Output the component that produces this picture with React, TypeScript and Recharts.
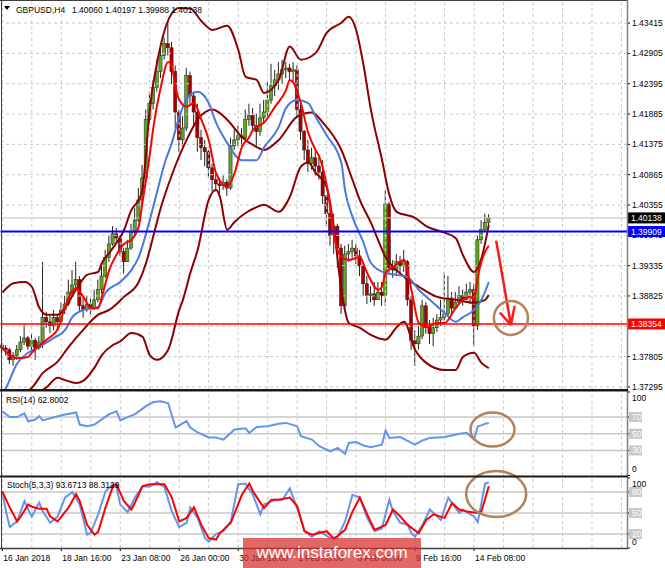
import React from 'react';
import { Bar, ComposedChart, Line, ReferenceDot, ReferenceLine, XAxis, YAxis } from 'recharts';

const FONT = '"Liberation Sans", Arial, sans-serif';
const BULL = '#5aa91c';
const BEAR = '#a80000';
const MAROON = '#8b0000';
const MA_BLUE = '#4a78e0';
const RSI_BLUE = '#6495ed';
const BROWN = '#b5835a';
const GRID = '#c8c8c8';

// GBPUSD H4 candles, one per bar starting 16 Jan 2018 00:00
const firstOpen = 1.38;
const closes = [
  1.3795, 1.3792, 1.3775, 1.3782, 1.3792, 1.3805, 1.3812, 1.3798, 1.3808, 1.3795,
  1.3805, 1.3846, 1.3839, 1.3832, 1.3846, 1.3839, 1.3859, 1.3869, 1.3889, 1.3901,
  1.391, 1.3866, 1.3859, 1.3869, 1.3862, 1.3876, 1.3893, 1.3916, 1.3947, 1.397,
  1.3987, 1.398, 1.3957, 1.394, 1.3963, 1.399, 1.401, 1.4044, 1.4081, 1.4179,
  1.4206, 1.4233, 1.426, 1.4287, 1.4307, 1.43, 1.426, 1.4192, 1.4145, 1.4165,
  1.4253, 1.4219, 1.4192, 1.4149, 1.4132, 1.4125, 1.4098, 1.4078, 1.4071, 1.4068,
  1.4074, 1.4064, 1.4135, 1.4145, 1.4152, 1.4149, 1.4179, 1.4186, 1.4169, 1.4159,
  1.4182, 1.4192, 1.4212, 1.4236, 1.4246, 1.4256, 1.4263, 1.4266, 1.426, 1.4263,
  1.4196, 1.4159, 1.4128, 1.4105, 1.4115, 1.4101, 1.4091, 1.4051, 1.4021, 1.3984,
  1.4, 1.3963, 1.3866, 1.3953, 1.3957, 1.3963, 1.395, 1.3933, 1.3903, 1.3883,
  1.3886, 1.3876, 1.3889, 1.3883, 1.4037, 1.393, 1.3926, 1.394, 1.3933, 1.394,
  1.3876, 1.3808, 1.3802, 1.3815, 1.3866, 1.3832, 1.3819, 1.3829, 1.3842, 1.3846,
  1.3852, 1.3879, 1.3862, 1.3872, 1.3883, 1.3876, 1.3889, 1.3893, 1.3832, 1.3977,
  1.3994, 1.4006, 1.40138,
];
const highs = [
  1.3803, 1.38, 1.3795, 1.3788, 1.38, 1.3815, 1.3834, 1.3815, 1.3819, 1.3812,
  1.3815, 1.394, 1.3856, 1.3849, 1.3859, 1.3852, 1.3872, 1.3883, 1.391, 1.3926,
  1.394, 1.3916, 1.3879, 1.3883, 1.3879, 1.3893, 1.391, 1.3933, 1.396, 1.3984,
  1.4, 1.3997, 1.3984, 1.3963, 1.3977, 1.4004, 1.4031, 1.4064, 1.4103, 1.4196,
  1.4226, 1.4246, 1.428, 1.4303, 1.4317, 1.4344, 1.431, 1.427, 1.4196, 1.4185,
  1.4266, 1.426, 1.4226, 1.4206, 1.4162, 1.4145, 1.4128, 1.4105, 1.4091, 1.4081,
  1.4085, 1.4078, 1.4149, 1.4162, 1.4169, 1.4165, 1.4196, 1.4206, 1.4199, 1.4189,
  1.4206, 1.4212, 1.4243, 1.4273, 1.4263, 1.4276, 1.428, 1.4276, 1.4273, 1.4276,
  1.427, 1.4206, 1.4162, 1.4145, 1.4132, 1.4128, 1.4118, 1.4111, 1.4051, 1.4034,
  1.4021, 1.4004, 1.397, 1.3967, 1.397, 1.3977, 1.397, 1.396, 1.394, 1.3916,
  1.3899, 1.3906, 1.3906, 1.3906, 1.4061, 1.4041, 1.3943, 1.3953, 1.395, 1.396,
  1.3943, 1.3883, 1.3825, 1.3832, 1.3876, 1.3872, 1.3842, 1.3846, 1.3852, 1.3876,
  1.3923, 1.3916, 1.3889, 1.3889, 1.3899, 1.3893, 1.3903, 1.3906, 1.3903, 1.3984,
  1.401, 1.4021, 1.40197,
];
const lows = [
  1.3788, 1.3782, 1.3768, 1.3765, 1.3775, 1.3788, 1.38, 1.3792, 1.3788, 1.3775,
  1.3792, 1.3795, 1.3829, 1.382, 1.3825, 1.3825, 1.3835, 1.3852, 1.3866, 1.3883,
  1.3893, 1.3856, 1.3846, 1.3856, 1.3852, 1.3859, 1.3872, 1.3886, 1.3913, 1.394,
  1.3967, 1.397, 1.395, 1.392, 1.394, 1.396, 1.3984, 1.4007, 1.4037, 1.4081,
  1.4172, 1.4196, 1.4226, 1.4249, 1.428, 1.4287, 1.4239, 1.4165, 1.4125, 1.4135,
  1.416, 1.4206, 1.4169, 1.4125, 1.4111, 1.4101, 1.4081, 1.4058, 1.4058, 1.4054,
  1.4061, 1.4051, 1.4061, 1.4128, 1.4135, 1.4132, 1.4145, 1.4169, 1.4159, 1.4132,
  1.4152, 1.4172, 1.4185, 1.4206, 1.4219, 1.4229, 1.4239, 1.4249, 1.4246, 1.4243,
  1.4185, 1.4145, 1.4111, 1.4091, 1.4095, 1.4085, 1.4078, 1.4037, 1.4, 1.3967,
  1.3953, 1.393, 1.3852, 1.3859, 1.394, 1.3947, 1.3936, 1.3916, 1.3883, 1.3869,
  1.3872, 1.3866, 1.3876, 1.3866, 1.3866, 1.392, 1.3913, 1.3916, 1.392, 1.3923,
  1.3866, 1.3792, 1.3765, 1.3792, 1.381, 1.3819, 1.3802, 1.3798, 1.3822, 1.3832,
  1.3839, 1.3849, 1.3852, 1.3859, 1.3869, 1.3866, 1.3876, 1.3869, 1.3798, 1.3825,
  1.397, 1.399, 1.39988,
];

// indicator lines: [bar, value]
const fastMa = [
  [0, 1.3795], [2, 1.3783], [4, 1.3778], [7, 1.378], [8, 1.3787], [12, 1.3809], [15, 1.3826],
  [17, 1.3864], [20, 1.3896], [22, 1.3881], [24, 1.3862], [26, 1.3862], [27, 1.3881], [29, 1.3926],
  [31, 1.3952], [33, 1.397], [35, 1.3977], [37, 1.3999], [38, 1.4039], [40, 1.412], [41, 1.4167],
  [43, 1.4234], [45, 1.4276], [46, 1.4268], [47, 1.4234], [48, 1.4212], [50, 1.4201], [52, 1.4207],
  [54, 1.4179], [56, 1.4145], [58, 1.4089], [61, 1.4066], [63, 1.4089], [65, 1.4133], [67, 1.415],
  [68, 1.4162], [71, 1.4174], [74, 1.4201], [77, 1.4229], [78, 1.4246], [79, 1.4241], [81, 1.4207],
  [83, 1.4157], [85, 1.4128], [86, 1.4117], [88, 1.4069], [89, 1.4032], [90, 1.3985], [92, 1.3948],
  [94, 1.3943], [97, 1.3948], [99, 1.3921], [102, 1.3893], [103, 1.3898], [104, 1.3921],
  [106, 1.3931], [109, 1.3943], [111, 1.3893], [113, 1.3837], [115, 1.383], [118, 1.3837],
  [120, 1.3837], [123, 1.3862], [125, 1.3876], [127, 1.3881], [128, 1.3876], [129, 1.3914],
  [130, 1.394], [131, 1.3957], [132, 1.3967],
];
const slowMa = [
  [0, 1.3718], [1, 1.3728], [4, 1.3769], [7, 1.3787], [10, 1.3797], [14, 1.3812], [17, 1.3825],
  [19, 1.3847], [22, 1.3859], [26, 1.3864], [28, 1.3888], [32, 1.3906], [35, 1.3926], [37, 1.3948],
  [40, 1.401], [42, 1.4058], [44, 1.4105], [46, 1.414], [48, 1.4184], [51, 1.4221], [53, 1.4226],
  [56, 1.4207], [58, 1.4174], [61, 1.414], [65, 1.4111], [69, 1.4111], [71, 1.4132], [75, 1.4167],
  [77, 1.4199], [80, 1.4212], [83, 1.4207], [85, 1.4184], [88, 1.4153], [92, 1.4106], [93, 1.406],
  [95, 1.4016], [98, 1.3972], [100, 1.3938], [104, 1.3921], [107, 1.3918], [110, 1.3914],
  [113, 1.3893], [116, 1.3876], [120, 1.3854], [123, 1.3839], [125, 1.3847], [128, 1.3859],
  [130, 1.3876], [132, 1.3906],
];
const bandUpper = [
  [0, 1.3888], [3, 1.3904], [6, 1.3906], [8, 1.3898], [10, 1.3863], [12, 1.3851], [15, 1.3851],
  [17, 1.3863], [20, 1.3893], [23, 1.3918], [26, 1.3923], [27, 1.3938], [29, 1.3955], [31, 1.3972],
  [33, 1.3993], [35, 1.4027], [37, 1.4044], [38, 1.4061], [40, 1.4196], [43, 1.4305], [46, 1.4358],
  [48, 1.4367], [51, 1.4366], [54, 1.4345], [57, 1.433], [61, 1.4337], [64, 1.4297], [66, 1.4251],
  [69, 1.4246], [71, 1.4224], [75, 1.4246], [78, 1.4302], [81, 1.428], [85, 1.4291], [88, 1.4325],
  [92, 1.4342], [94, 1.4352], [96, 1.433], [98, 1.4271], [100, 1.4196], [103, 1.4112], [105, 1.4053],
  [107, 1.4024], [112, 1.4014], [115, 1.4], [120, 1.3989], [123, 1.398], [125, 1.3951],
  [128, 1.3923], [130, 1.3946], [132, 1.4002],
];
const bandMiddle = [
  [0, 1.3705], [8, 1.3728], [11, 1.3753], [15, 1.3772], [18, 1.3797], [22, 1.3826], [26, 1.3851],
  [29, 1.3859], [33, 1.3881], [37, 1.3906], [39, 1.3938], [40, 1.396], [43, 1.4031], [46, 1.4086],
  [50, 1.4145], [53, 1.4179], [57, 1.4196], [61, 1.4179], [65, 1.415], [69, 1.4133], [71, 1.4128],
  [75, 1.4145], [80, 1.4184], [84, 1.4191], [87, 1.4174], [92, 1.4128], [95, 1.4078], [97, 1.4044],
  [100, 1.4006], [104, 1.3948], [109, 1.3915], [113, 1.3898], [118, 1.3881], [123, 1.3876],
  [128, 1.3871], [131, 1.3876], [132, 1.3884],
];
const bandLower = [
  [0, 1.3699], [6, 1.3708], [12, 1.3729], [15, 1.3745], [17, 1.3741], [20, 1.3736], [22, 1.374],
  [25, 1.3762], [27, 1.3783], [30, 1.38], [32, 1.3806], [35, 1.382], [38, 1.3814], [40, 1.3783],
  [42, 1.3775], [45, 1.3792], [48, 1.3859], [49, 1.3876], [51, 1.3921], [53, 1.396], [56, 1.4044],
  [58, 1.4061], [59, 1.405], [61, 1.3994], [63, 1.4007], [66, 1.4022], [69, 1.4032], [71, 1.4036],
  [75, 1.4024], [78, 1.4049], [81, 1.41], [83, 1.4107], [85, 1.409], [88, 1.4066], [90, 1.3994],
  [92, 1.3893], [94, 1.3837], [97, 1.3829], [100, 1.3817], [104, 1.3809], [107, 1.383],
  [109, 1.3839], [112, 1.3792], [115, 1.377], [120, 1.3758], [123, 1.3758], [125, 1.378],
  [128, 1.3787], [130, 1.377], [132, 1.3761],
];
const rsi = [
  [0, 77], [2, 70], [4, 70], [6, 74.5], [7, 65], [9, 67], [10, 71], [11, 66], [13, 68.5], [17, 73],
  [20, 75.5], [21, 61], [23, 59], [25, 61], [29, 73.5], [31, 77], [32, 66], [34, 70], [36, 73.5],
  [39, 83], [41, 88], [43, 89], [45, 86.5], [47, 57.5], [48, 60], [50, 65], [51, 57.5], [53, 51.5],
  [56, 45.5], [58, 45.5], [60, 43], [63, 55], [66, 56.5], [67, 51], [69, 58], [72, 59], [75, 62],
  [77, 63], [80, 59], [81, 47], [84, 43], [86, 35], [89, 29], [91, 33], [93, 26], [94, 39], [96, 40],
  [98, 36], [100, 34], [103, 37], [104, 54], [105, 45], [108, 46], [111, 39], [112, 37], [114, 42],
  [116, 45], [120, 46], [122, 48], [124, 50], [126, 51], [127, 47], [128, 43], [129, 59], [130, 60],
  [131, 62], [132, 62.8],
];
const stochK = [
  [0, 81], [1, 52], [2, 30], [4, 38], [6, 67], [7, 55], [8, 45], [10, 65], [11, 52], [13, 36],
  [15, 45], [17, 72], [19, 80], [21, 62], [23, 19], [24, 22], [26, 48], [28, 81], [30, 91], [31, 87],
  [32, 62], [34, 51], [36, 72], [38, 88], [40, 88], [42, 94], [44, 87], [46, 52], [48, 30], [50, 36],
  [51, 58], [53, 43], [55, 14], [56, 9], [58, 20], [60, 24], [62, 38], [64, 91], [66, 92], [68, 76],
  [70, 48], [71, 62], [74, 69], [76, 69], [78, 85], [80, 57], [82, 24], [84, 16], [86, 24], [89, 14],
  [91, 16], [93, 38], [95, 76], [97, 72], [99, 43], [101, 24], [103, 28], [105, 69], [106, 52],
  [108, 36], [110, 33], [111, 21], [112, 16], [114, 33], [116, 55], [119, 40], [121, 72], [124, 50],
  [125, 55], [127, 48], [128, 45], [129, 37], [131, 92], [132, 93.67],
];
const stochD = [
  [0, 81], [2, 58], [4, 38], [5, 45], [7, 62], [8, 59], [10, 56], [12, 56], [13, 45], [15, 38],
  [18, 58], [20, 77], [21, 67], [23, 33], [25, 19], [26, 23], [28, 58], [30, 88], [31, 91], [33, 67],
  [35, 55], [36, 65], [38, 88], [40, 91], [44, 91], [46, 72], [48, 38], [50, 43], [52, 58], [54, 33],
  [56, 14], [58, 12], [59, 21], [62, 36], [65, 76], [67, 92], [68, 81], [71, 57], [73, 69], [75, 69],
  [78, 72], [80, 60], [82, 24], [84, 19], [88, 24], [90, 13], [93, 26], [95, 52], [97, 72], [99, 48],
  [101, 26], [104, 33], [106, 55], [108, 45], [110, 33], [113, 21], [115, 40], [117, 48], [120, 43],
  [122, 64], [124, 55], [126, 52], [129, 50], [130, 52], [132, 88.31],
];

const priceTicks = [
  1.43415, 1.42905, 1.42395, 1.41885, 1.41375, 1.40865, 1.40355, 1.39845, 1.39335, 1.38825,
  1.38315, 1.37805, 1.37295,
];
const lastPrice = 1.40138;
const resistance = 1.39909;
const support = 1.38354;
const timeLabels = [
  '16 Jan 2018', '18 Jan 16:00', '23 Jan 08:00', '26 Jan 00:00', '30 Jan 16:00',
  '1 Feb 08:00', '6 Feb 00:00', '9 Feb 16:00', '14 Feb 08:00',
];
const timeLabelBars = [0, 16, 32, 48, 64, 80, 96, 112, 128];
const gridBars = [0, 8, 16, 24, 32, 40, 48, 56, 64, 72, 80, 88, 96, 104, 112, 120, 128, 136, 144, 152, 160, 168];

const SLOTS = 170;
const rows: Record<string, any>[] = Array.from({ length: SLOTS }, (_, i) => ({ i }));
closes.forEach((c, i) => {
  rows[i].open = i === 0 ? firstOpen : closes[i - 1];
  rows[i].close = c;
  rows[i].range = [lows[i], highs[i]];
});
const put = (key: string, pts: number[][]) => pts.forEach(([i, v]) => { rows[i][key] = v; });
put('fast', fastMa);
put('slow', slowMa);
put('up', bandUpper);
put('mid', bandMiddle);
put('low', bandLower);
put('rsi', rsi);
put('k', stochK);
put('d', stochD);

const TAGS: Record<string, string> = {
  [lastPrice.toFixed(5)]: '#000000',
  [resistance.toFixed(5)]: '#0000ff',
  [support.toFixed(5)]: '#ff0000',
};

const Candle = (props: any) => {
  const { x, y, width, height, payload } = props;
  if (!payload || !payload.range || !Number.isFinite(y) || !Number.isFinite(height)) return <g />;
  const [lo, hi] = payload.range;
  const span = hi - lo || 1e-9;
  const toY = (v: number) => y + ((hi - v) / span) * height;
  const cx = x + width / 2;
  const yo = toY(payload.open);
  const yc = toY(payload.close);
  const top = Math.min(yo, yc);
  const h = Math.max(Math.abs(yc - yo), 1);
  const up = payload.close >= payload.open;
  return (
    <g>
      <line x1={cx} x2={cx} y1={y} y2={y + height} stroke="#222" strokeWidth={1} />
      <rect x={cx - 1.6} y={top} width={3.2} height={h} fill={up ? BULL : BEAR} stroke="#222" strokeWidth={0.5} />
    </g>
  );
};

const Empty = () => <g />;

const PriceTick = (props: any) => {
  const { x, y, payload } = props;
  const label = Number(payload.value).toFixed(5);
  const bg = TAGS[label];
  if (bg) {
    return (
      <g>
        <rect x={x - 4} y={y - 5.5} width={38} height={11} fill={bg} />
        <text x={x - 1} y={y + 3} fill="#fff" fontSize={8.5} fontFamily={FONT}>{label}</text>
      </g>
    );
  }
  return <text x={x} y={y + 3} fill="#000" fontSize={8.5} fontFamily={FONT}>{label}</text>;
};

const levelTick = (top: number, bottom: number) => (props: any) => {
  const { x, y, payload } = props;
  const v = payload.value;
  if (v === top) return <text x={x} y={y + 9} fill="#000" fontSize={8.5} fontFamily={FONT}>{v}</text>;
  if (v === bottom) return <text x={x} y={y - 3.5} fill="#000" fontSize={8.5} fontFamily={FONT}>{v}</text>;
  return (
    <g>
      <rect x={x - 3} y={y - 5} width={13} height={10} fill="#c8c8c8" />
      <text x={x} y={y + 3} fill="#fff" fontSize={8.5} fontFamily={FONT}>{v}</text>
    </g>
  );
};

const TimeTick = (props: any) => {
  const { x, y, payload } = props;
  const k = timeLabelBars.indexOf(payload.value);
  if (k < 0) return <g />;
  return (
    <g>
      <line x1={x} x2={x} y1={y} y2={y + 3} stroke="#000" />
      <text x={x + 1} y={y + 12.5} fill="#000" fontSize={8.5} fontFamily={FONT}>{timeLabels[k]}</text>
    </g>
  );
};

const ellipse = (rx: number, ry: number) => (p: any) => (
  <ellipse cx={p.cx} cy={p.cy} rx={rx} ry={ry} fill="none" stroke={BROWN} strokeWidth={2.5} />
);

const vGrid = () =>
  gridBars.map((b) => <ReferenceLine key={`v${b}`} x={b} stroke={GRID} strokeDasharray="3 3" />);

const lineProps = { dot: false, activeDot: false, isAnimationActive: false, connectNulls: true } as const;

export default function App() {
  return (
    <div style={{ position: 'absolute', left: 0, top: 0, width: 665, height: 568, background: '#fff', overflow: 'hidden' }}>
      <div style={{ position: 'absolute', left: 0, top: 0 }}>
        <ComposedChart width={665} height={396} data={rows} margin={{ top: 2, right: 0, bottom: 7, left: 0.5 }}>
          <XAxis dataKey="i" type="category" scale="band" hide />
          <YAxis
            orientation="right"
            width={38}
            type="number"
            domain={[1.3726, 1.4377]}
            allowDataOverflow
            ticks={[...priceTicks, lastPrice, resistance, support]}
            interval={0}
            tickSize={3}
            tickMargin={2}
            tickLine={{ stroke: '#000' }}
            axisLine={false}
            tick={PriceTick}
          />
          {vGrid()}
          {priceTicks.map((t) => (
            <ReferenceLine key={`h${t}`} y={t} stroke={GRID} strokeDasharray="3 3" />
          ))}
          <ReferenceLine y={lastPrice} stroke="#c0c0c0" />
          <Bar dataKey="range" barSize={3} shape={Candle} isAnimationActive={false} />
          <Line dataKey="up" type="monotone" stroke={MAROON} strokeWidth={2} {...lineProps} />
          <Line dataKey="mid" type="monotone" stroke={MAROON} strokeWidth={2} {...lineProps} />
          <Line dataKey="low" type="monotone" stroke={MAROON} strokeWidth={2} {...lineProps} />
          <Line dataKey="slow" type="monotone" stroke={MA_BLUE} strokeWidth={2} {...lineProps} />
          <Line dataKey="fast" type="monotone" stroke="#ff0000" strokeWidth={2} {...lineProps} />
          <ReferenceLine y={resistance} stroke="#0000ff" strokeWidth={2} />
          <ReferenceLine y={support} stroke="#ff0000" strokeWidth={1.5} />
          <ReferenceLine segment={[{ x: 134, y: 1.39756 }, { x: 138, y: 1.38337 }]} stroke="#ff1a1a" strokeWidth={2.5} />
          <ReferenceLine segment={[{ x: 135, y: 1.38544 }, { x: 138, y: 1.38337 }]} stroke="#ff1a1a" strokeWidth={2.5} />
          <ReferenceLine segment={[{ x: 139, y: 1.38657 }, { x: 138, y: 1.38337 }]} stroke="#ff1a1a" strokeWidth={2.5} />
          <ReferenceDot x={138} y={1.38455} r={17} fill="none" stroke={BROWN} strokeWidth={2.5} />
        </ComposedChart>
      </div>

      <div style={{ position: 'absolute', left: 0, top: 391 }}>
        <ComposedChart width={665} height={86} data={rows} margin={{ top: 1, right: 0, bottom: 1.5, left: 0.5 }}>
          <XAxis dataKey="i" type="category" scale="band" hide />
          <YAxis
            orientation="right"
            width={38}
            type="number"
            domain={[0, 100]}
            ticks={[100, 70, 50, 30, 0]}
            interval={0}
            tickSize={3}
            tickMargin={2}
            tickLine={{ stroke: '#000' }}
            axisLine={false}
            tick={levelTick(100, 0)}
          />
          {vGrid()}
          {[70, 50, 30].map((v) => (
            <ReferenceLine key={v} y={v} stroke={GRID} strokeWidth={1.5} />
          ))}
          <Bar dataKey="none" barSize={3} shape={Empty} isAnimationActive={false} />
          <Line dataKey="rsi" type="linear" stroke={RSI_BLUE} strokeWidth={2} {...lineProps} />
          <ReferenceDot x={133} y={55} r={1} shape={ellipse(22, 17)} />
        </ComposedChart>
      </div>

      <div style={{ position: 'absolute', left: 0, top: 464 }}>
        <ComposedChart width={665} height={104} data={rows} margin={{ top: 14, right: 0, bottom: 0, left: 0.5 }}>
          <XAxis
            dataKey="i"
            type="category"
            scale="band"
            height={20}
            ticks={timeLabelBars}
            interval={0}
            tickSize={0}
            tickMargin={0}
            tickLine={false}
            axisLine={false}
            tick={TimeTick}
          />
          <YAxis
            orientation="right"
            width={38}
            type="number"
            domain={[0, 100]}
            ticks={[100, 80, 50, 20, 0]}
            interval={0}
            tickSize={3}
            tickMargin={2}
            tickLine={{ stroke: '#000' }}
            axisLine={false}
            tick={levelTick(100, 0)}
          />
          {vGrid()}
          {[80, 50, 20].map((v) => (
            <ReferenceLine key={v} y={v} stroke={GRID} strokeWidth={1.5} />
          ))}
          <Bar dataKey="none" barSize={3} shape={Empty} isAnimationActive={false} />
          <Line dataKey="k" type="linear" stroke={RSI_BLUE} strokeWidth={2} {...lineProps} />
          <Line dataKey="d" type="linear" stroke="#ff0000" strokeWidth={2} {...lineProps} />
          <ReferenceDot x={134} y={77} r={1} shape={ellipse(30, 23)} />
        </ComposedChart>
      </div>

      <svg width={665} height={568} style={{ position: 'absolute', left: 0, top: 0, pointerEvents: 'none' }}>
        <line x1={0} y1={0.5} x2={628} y2={0.5} stroke="#404040" />
        <line x1={1.5} y1={0} x2={1.5} y2={549} stroke="#404040" />
        <line x1={627.5} y1={0} x2={627.5} y2={549} stroke="#808080" strokeWidth={1.5} />
        <rect x={0} y={389} width={628} height={2.5} fill="#1a1a1a" />
        <rect x={0} y={475.5} width={628} height={2} fill="#1a1a1a" />
        <line x1={0} y1={548.5} x2={628} y2={548.5} stroke="#404040" strokeWidth={1.5} />
        <polygon points="4,6 10,6 7,10" fill="#000" />
        <text x={16} y={13} fontSize={8.5} fontFamily={FONT} fill="#000">GBPUSD,H4</text>
        <text x={72} y={13} fontSize={8.5} fontFamily={FONT} fill="#000">1.40060 1.40197 1.39988 1.40138</text>
        <text x={6} y={403} fontSize={8.5} fontFamily={FONT} fill="#000">RSI(14) 62.8002</text>
        <text x={7} y={488} fontSize={8.5} fontFamily={FONT} fill="#000">Stoch(5,3,3) 93.6713 88.3129</text>
      </svg>

      <div
        style={{
          position: 'absolute',
          left: 243,
          top: 538,
          width: 178,
          height: 30,
          background: 'rgba(215, 45, 45, 0.72)',
          color: '#fff',
          fontFamily: FONT,
          fontSize: 17,
          lineHeight: '30px',
          textAlign: 'center',
        }}
      >
        www.instaforex.com
      </div>
    </div>
  );
}
